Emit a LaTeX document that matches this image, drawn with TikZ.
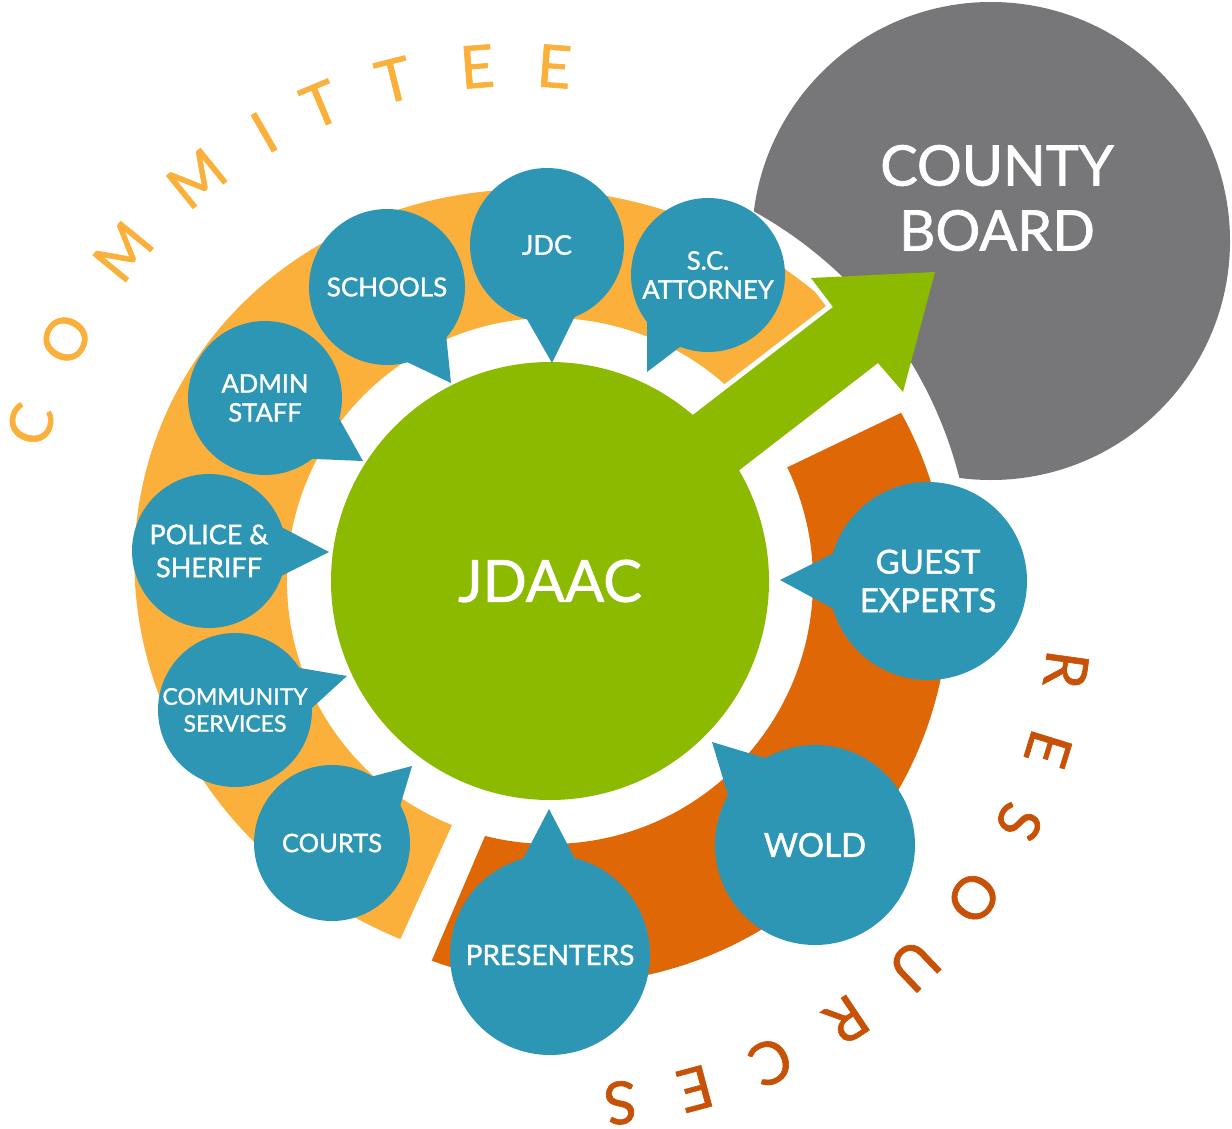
\documentclass[tikz,border=0pt]{standalone}
\usepackage{fontspec}
\setmainfont{Lato}
\newfontfamily\medfont{Lato}[FakeBold=1.3]
\newfontfamily\letfont{Lato}[FakeBold=1.1]
\usetikzlibrary{calc}
\definecolor{cblue}{HTML}{2E96B5}
\definecolor{cgreen}{HTML}{8CBA00}
\definecolor{clight}{HTML}{FBB03B}
\definecolor{cdark}{HTML}{E06706}
\definecolor{cgray}{HTML}{77777A}
\definecolor{cres}{HTML}{C85108}
\begin{document}
\begin{tikzpicture}[x=1pt,y=1pt,yscale=-1,
  bubble/.style={circle,fill=cblue,text=white,inner sep=0pt,align=center,font=\medfont\fontsize{25.5}{29}\selectfont},
  bigbubble/.style={bubble,font=\medfont\fontsize{33}{38.5}\selectfont},
  ptr/.style={fill=cblue},
  lettc/.style={text=clight,font=\letfont\fontsize{59}{59}\selectfont,inner sep=0pt},
  lettr/.style={text=cres,font=\letfont\fontsize{59}{59}\selectfont,inner sep=0pt}]
\useasboundingbox (0,0) rectangle (1232,1129);
\coordinate (G) at (550,581);
\coordinate (LC) at (517,574);
\coordinate (RC) at (564,599);

% light orange ring
\begin{scope}
\clip (G) -- (452,825) -- (348,1055) -- ($(G)+(135:750)$) -- ($(G)+(180:750)$) -- ($(G)+(225:750)$) -- ($(G)+(270:750)$) -- ($(G)+(320:750)$) -- cycle;
\fill[clight,even odd rule,rotate around={20:(G)}] (G) ellipse [x radius=419, y radius=388] (G) circle [radius=263];
\end{scope}

% dark orange ring
\begin{scope}
\clip (G) -- ($(G)+(334.4:750)$) -- ($(G)+(0:750)$) -- ($(G)+(45:750)$) -- ($(G)+(90:750)$) -- (379,1084) -- (485,836) -- cycle;
\fill[cdark,even odd rule] (RC) circle [radius=385] (G) circle [radius=263];
\end{scope}

% arrow outline
\coordinate (a1) at (620,471);
\coordinate (a2) at (833,307);
\coordinate (a3) at (811,278);
\coordinate (a4) at (935,272);
\coordinate (a5) at (903,392);
\coordinate (a6) at (878,363);
\coordinate (a7) at (667,526);
\draw[white,line width=10,line join=round] (a1) -- (a2) -- (a3) -- (a4) -- (a5) -- (a6) -- (a7) -- cycle;

% county board
\begin{scope}
\clip (991,241) circle [radius=239];
\fill[cgray,even odd rule] (-50,-50) rectangle (1300,1200) (G) circle [radius=422];
\end{scope}
\node[text=white,align=center,font=\medfont\fontsize{56}{65}\selectfont,inner sep=0pt] (board) at (997,198) {COUNTY\\BOARD};

% arrow fill
\fill[cgreen] (a1) -- (a2) -- (a3) -- (a4) -- (a5) -- (a6) -- (a7) -- cycle;

% JDAAC
\node[circle,fill=cgreen,minimum size=438pt,inner sep=0pt,text=white,font=\medfont\fontsize{58}{58}\selectfont] (jdaac) at (G) {JDAAC};

% bubbles: pointers then circles
\fill[ptr] (451,383) -- ($(451,383)!1.3!(407,362)$) -- ($(451,383)!1.3!(446,334)$) -- cycle;
\node[bubble,minimum size=156pt,font=\medfont\fontsize{26}{29}\selectfont] (schools) at (387,287) {SCHOOLS};

\fill[ptr] (363,461) -- ($(363,461)!1.3!(340,420)$) -- ($(363,461)!1.3!(315,459)$) -- cycle;
\node[bubble,minimum size=154pt] (admin) at (265,398) {ADMIN\\STAFF};

\fill[ptr] (552,363) -- ($(552,363)!1.3!(528,321)$) -- ($(552,363)!1.3!(573,320)$) -- cycle;
\node[bubble,minimum size=154pt,font=\medfont\fontsize{27}{29}\selectfont] (jdc) at (547,245) {JDC};

\fill[ptr] (647,372) -- ($(647,372)!1.3!(647,325)$) -- ($(647,372)!1.3!(680,347)$) -- cycle;
\node[bubble,minimum size=154pt] (sc) at (708,275) {S.C.\\ATTORNEY};

\fill[ptr] (329,552) -- ($(329,552)!1.3!(287,530)$) -- ($(329,552)!1.3!(287,573)$) -- cycle;
\node[bubble,minimum size=154pt,font=\medfont\fontsize{27}{33}\selectfont] (police) at (209,551) {POLICE \&\\SHERIFF};

\fill[ptr] (347,676) -- ($(347,676)!1.3!(300,668)$) -- ($(347,676)!1.3!(313,707)$) -- cycle;
\node[bubble,minimum size=154pt,font=\medfont\fontsize{23}{27}\selectfont] (community) at (235,710) {COMMUNITY\\SERVICES};

\fill[ptr] (412,766) -- ($(412,766)!1.3!(374,776)$) -- ($(412,766)!1.3!(401,803)$) -- cycle;
\node[bubble,minimum size=156pt] (courts) at (332,843) {COURTS};

\fill[ptr] (549,809) -- ($(549,809)!1.3!(523,859)$) -- ($(549,809)!1.3!(575,859)$) -- cycle;
\node[bubble,minimum size=200pt,font=\medfont\fontsize{28}{29}\selectfont] (presenters) at (550,955) {PRESENTERS};

\fill[ptr] (712,742) -- ($(712,742)!1.3!(765,758)$) -- ($(712,742)!1.3!(728,795)$) -- cycle;
\node[bigbubble,minimum size=200pt] (wold) at (815,845) {WOLD};

\fill[ptr] (780,580) -- ($(780,580)!1.3!(830,555)$) -- ($(780,580)!1.3!(830,607)$) -- cycle;
\node[bigbubble,minimum size=198pt] (guest) at (928,581) {GUEST\\EXPERTS};

% COMMITTEE
\foreach \ch/\ang [count=\i] in {C/197.1,O/207.5,M/219.3,M/231,I/240.2,T/247.3,T/256,E/265.5,E/274.2}{
  \node[lettc,rotate={-\ang-90}] (com\i) at ($(LC)+(\ang:509)$) {\ch};
}
% RESOURCES
\foreach \ch/\ang [count=\i] in {R/8.0,E/17.2,S/26.1,O/36.1,U/46.3,R/56.1,C/65.9,E/75,S/83.6}{
  \node[lettr,rotate={-\ang-90}] (res\i) at ($(RC)+(\ang:507)$) {\ch};
}
\end{tikzpicture}
\end{document}
